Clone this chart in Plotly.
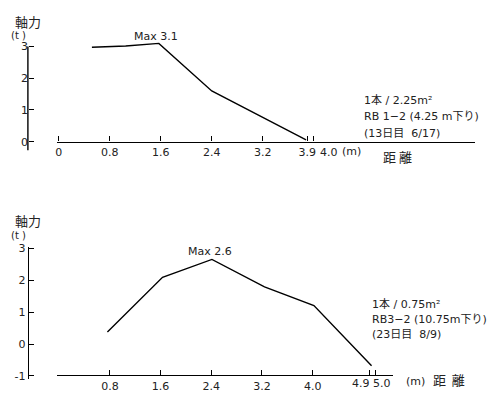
import plotly.graph_objects as go

W, H = 499, 393

# ---------------- data ----------------
top_dist = [0.52, 1.05, 1.57, 2.4, 3.88]
top_force = [2.98, 3.02, 3.1, 1.6, 0.06]
top_tick_pos = [0, 0.8, 1.6, 2.4, 3.2, 3.9, 4.0]
top_tick_text = ["0", "0.8", "1.6", "2.4", "3.2", "3.9", ""]   # "4.0" written beside its tick
top_y_ticks = [0, 1, 2, 3]
top_y_text = ["0", "1", "2", "3"]

bot_dist = [0.76, 1.63, 2.41, 3.24, 4.02, 4.93]
bot_force = [0.38, 2.1, 2.66, 1.8, 1.21, -0.68]
bot_tick_pos = [0.8, 1.6, 2.4, 3.2, 4.0, 4.9, 5.0]
bot_tick_text = ["0.8", "1.6", "2.4", "3.2", "4.0", "", ""]      # "4.9" / "5.0" written beside ticks
bot_y_ticks = [-1, 0, 1, 2, 3]
bot_y_text = ["-1", "0", "1", "2", "3"]

top_note = ["1本 / 2.25m²", "RB 1−2 (4.25 m下り)", "(13日目  6/17)"]
bot_note = ["1本 / 0.75m²", "RB3−2 (10.75m下り)", "(23日目  8/9)"]
top_max = "Max 3.1"
bot_max = "Max 2.6"

# ---------------- helpers ----------------
def px(x):
    return x / W

def py(y):
    return 1 - y / H

FONT = "DejaVu Sans, Noto Sans CJK JP"
CJK = "Noto Sans CJK JP"
TXT = "#222"
TICKSIZE = 11

fig = go.Figure()
fig.add_trace(go.Scatter(x=top_dist, y=top_force, mode="lines",
                         line=dict(color="black", width=1.4),
                         xaxis="x", yaxis="y", showlegend=False))
fig.add_trace(go.Scatter(x=bot_dist, y=bot_force, mode="lines",
                         line=dict(color="black", width=1.4),
                         xaxis="x2", yaxis="y2", showlegend=False))

axis_common = dict(showgrid=False, zeroline=False, showline=True,
                   linecolor="black", linewidth=1.4, ticks="inside",
                   ticklen=5, tickcolor="black", tickwidth=1.2, tickangle=0,
                   tickfont=dict(family=FONT, size=TICKSIZE, color=TXT),
                   tickmode="array", fixedrange=True)

# top panel: x 0 at px 57, 64 px/unit; y 0 at px 141, 32.7 px/unit
T_X0, T_XS, T_Y0, T_YS = 57, 64, 141, 32.7
B_X0, B_XS, B_Y0, B_YS = 57.5, 63.6, 349.7, 32.8
fig.update_layout(
    xaxis=dict(axis_common, domain=[px(55), px(475)],
               range=[(55 - T_X0) / T_XS, (475 - T_X0) / T_XS],
               anchor="free", position=py(T_Y0),
               tickvals=top_tick_pos, ticktext=top_tick_text),
    yaxis=dict(axis_common, domain=[py(150), py(30)], showline=False,
               range=[(T_Y0 - 150) / T_YS, (T_Y0 - 30) / T_YS],
               anchor="free", position=px(26),
               tickvals=top_y_ticks, ticktext=top_y_text),
    xaxis2=dict(axis_common, domain=[px(55), px(393)],
                range=[(55 - B_X0) / B_XS, (393 - B_X0) / B_XS],
                anchor="free", position=py(382),
                tickvals=bot_tick_pos, ticktext=bot_tick_text),
    yaxis2=dict(axis_common, domain=[py(386), py(250)],
                range=[(B_Y0 - 386) / B_YS, (B_Y0 - 250) / B_YS],
                anchor="free", position=px(26),
                tickvals=bot_y_ticks, ticktext=bot_y_text),
)

# top y-axis line: from bottom of axis up to the "3" tick
fig.add_shape(type="line", xref="paper", yref="y",
              x0=px(26), x1=px(26), y0=(T_Y0 - 150) / T_YS, y1=top_y_ticks[-1],
              line=dict(color="black", width=1.4))

ann = []

def text(x, y, s, size=11, fam=FONT, xanchor="center"):
    ann.append(dict(x=px(x), y=py(y), xref="paper", yref="paper", text=s,
                    showarrow=False, xanchor=xanchor, yanchor="middle",
                    font=dict(family=fam, size=size, color=TXT)))

def ticklab(xref, xval, ypix, s, xanchor, xshift=0):
    ann.append(dict(x=xval, y=py(ypix), xref=xref, yref="paper", text=s,
                    showarrow=False, xanchor=xanchor, yanchor="middle",
                    xshift=xshift, font=dict(family=FONT, size=TICKSIZE, color=TXT)))

# crowded tick labels written beside their ticks, as in the original
ticklab("x", top_tick_pos[6], 152, "4.0", "left", 4)
ticklab("x2", bot_tick_pos[5], 390, "4.9", "right", 2)
ticklab("x2", bot_tick_pos[6], 390, "5.0", "left", -5)

# axis titles
text(26, 17, "軸力", size=13, fam=CJK)
text(17, 31, "(t )", size=10)
text(26, 222, "軸力", size=13, fam=CJK)
text(17, 238, "(t )", size=10)

# units / x titles
text(351, 151, "(m)", size=11)
text(397, 156, "距 離", size=13, fam=CJK)
text(415, 388, "(m)", size=11)
text(449, 386, "距  離", size=13, fam=CJK)

# max labels
text(155, 32, top_max, size=11)
text(209, 254, bot_max, size=11)

# notes
for i, s in enumerate(top_note):
    text(361, [98, 115, 133][i], s, size=11, fam=FONT, xanchor="left")
for i, s in enumerate(bot_note):
    text(369, [308, 324, 340][i], s, size=11, fam=FONT, xanchor="left")

fig.update_layout(annotations=ann, width=W, height=H,
                  margin=dict(l=0, r=0, t=0, b=0),
                  paper_bgcolor="white", plot_bgcolor="white",
                  showlegend=False)

fig.write_html("out.html", config={"displayModeBar": False},
               post_script="document.body.style.margin='0';")
